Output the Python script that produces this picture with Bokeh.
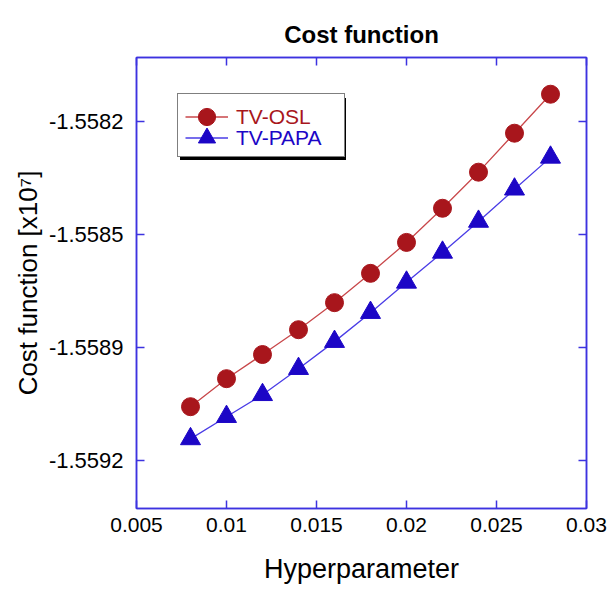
from bokeh.plotting import figure
from bokeh.models import (Range1d, FixedTicker, LinearAxis, Legend, LegendItem,
                          CustomLabelingPolicy)
from bokeh.embed import file_html
from bokeh.resources import INLINE

# ---- data ----
hyperparameter = [0.008, 0.010, 0.012, 0.014, 0.016, 0.018, 0.020, 0.022, 0.024, 0.026, 0.028]
tv_osl = [-1.559084, -1.558997, -1.558922, -1.558845, -1.558761, -1.558670,
          -1.558574, -1.558468, -1.558356, -1.558235, -1.558114]
tv_papa = [-1.559184, -1.559115, -1.559047, -1.558966, -1.558882, -1.558792,
           -1.558698, -1.558605, -1.558509, -1.558409, -1.558310]
x_ticks = [0.005, 0.01, 0.015, 0.02, 0.025, 0.03]
x_tick_labels = ["0.005", "0.01", "0.015", "0.02", "0.025", "0.03"]
y_ticks = [-1.5582, -1.55855, -1.5589, -1.55925]
y_tick_labels = ["-1.5582", "-1.5585", "-1.5589", "-1.5592"]
series_names = ["TV-OSL", "TV-PAPA"]

FONT = "Liberation Sans"
FRAME = "#3C33E0"
RED = "#A8161C"
RED_LINE = "#C8474A"
BLUE = "#1C06C6"
BLUE_LINE = "#4A3CE6"

p = figure(width=613, height=589, output_backend="svg", toolbar_location=None,
           x_range=Range1d(0.005, 0.03), y_range=Range1d(-1.5594, -1.5580),
           min_border_left=136, min_border_right=27, min_border_top=57, min_border_bottom=81,
           background_fill_color="white", border_fill_color="white")
p.grid.visible = False
p.outline_line_color = FRAME
p.outline_line_width = 1.5

p.title.text = "Cost function"
p.title.align = "center"
p.title.text_font = FONT
p.title.text_font_size = "24px"
p.title.text_font_style = "bold"
p.title.text_color = "black"
p.title.standoff = 20

no_labels = CustomLabelingPolicy(code="return []")

def style_axis(ax, show_labels):
    ax.axis_line_color = FRAME
    ax.axis_line_width = 1.5
    ax.major_tick_line_color = FRAME
    ax.major_tick_line_width = 1.5
    ax.major_tick_in = 8
    ax.major_tick_out = 0
    ax.minor_tick_line_color = None
    ax.major_label_text_font = FONT
    ax.major_label_text_color = "black"
    if not show_labels:
        ax.major_label_policy = no_labels
        ax.major_label_text_font_size = "0px"
        ax.major_label_standoff = 0

xax = p.xaxis[0]
xax.ticker = FixedTicker(ticks=x_ticks)
xax.major_label_overrides = {t: l for t, l in zip(x_ticks, x_tick_labels)}
style_axis(xax, True)
xax.major_label_text_font_size = "21px"
xax.major_label_standoff = 9
xax.axis_label = "Hyperparameter"
xax.axis_label_text_font = FONT
xax.axis_label_text_font_size = "27px"
xax.axis_label_text_font_style = "normal"
xax.axis_label_text_color = "black"
xax.axis_label_standoff = 19

yax = p.yaxis[0]
yax.ticker = FixedTicker(ticks=y_ticks)
yax.major_label_overrides = {t: l for t, l in zip(y_ticks, y_tick_labels)}
style_axis(yax, True)
yax.major_label_text_font_size = "22px"
yax.major_label_standoff = 13
yax.axis_label = "Cost function [x10\u2077]"
yax.axis_label_text_font = FONT
yax.axis_label_text_font_size = "26px"
yax.axis_label_text_font_style = "normal"
yax.axis_label_text_color = "black"
yax.axis_label_standoff = 3

top_ax = LinearAxis(ticker=FixedTicker(ticks=x_ticks))
style_axis(top_ax, False)
top_ax.major_label_standoff = 8   # spacer between frame and title
p.add_layout(top_ax, "above")
right_ax = LinearAxis(ticker=FixedTicker(ticks=y_ticks))
style_axis(right_ax, False)
p.add_layout(right_ax, "right")

l1 = p.line(hyperparameter, tv_osl, line_color=RED_LINE, line_width=1.3)
s1 = p.scatter(hyperparameter, tv_osl, marker="circle", size=18, fill_color=RED, line_color=RED)
l2 = p.line(hyperparameter, tv_papa, line_color=BLUE_LINE, line_width=1.3)
s2 = p.scatter(hyperparameter, tv_papa, marker="triangle", size=20, fill_color=BLUE, line_color=BLUE)

# invisible renderer used for the legend frame (box + drop shadow)
d0 = p.scatter([], [], fill_alpha=0, line_alpha=0)

# legend geometry, screen px from the frame's bottom-left corner
LX, LY = 41, 351
BOX_H = 62
ROW = 43

def box_legend(loc, **kw):
    return Legend(items=[LegendItem(label=" ", renderers=[d0])], location=loc,
                  padding=0, spacing=0, margin=0,
                  glyph_width=51, glyph_height=BOX_H, label_height=BOX_H, label_width=107,
                  label_standoff=8, label_text_font=FONT, label_text_font_size="21px", **kw)

def row_legend(name, rends, color, loc):
    return Legend(items=[LegendItem(label=name, renderers=rends)], location=loc,
                  padding=0, spacing=0, margin=0,
                  glyph_width=43, glyph_height=ROW, label_height=ROW,
                  label_standoff=8, label_text_font=FONT, label_text_font_size="21px",
                  label_text_color=color, background_fill_alpha=0, border_line_color=None)

shadow = box_legend((LX + 3, LY - 3), background_fill_color="black", background_fill_alpha=1.0,
                    border_line_color=None)
box = box_legend((LX, LY), background_fill_color="white", background_fill_alpha=1.0,
                 border_line_color="black", border_line_width=1)
row1 = row_legend(series_names[0], [l1, s1], RED, (LX + 8, LY + BOX_H - 21.5 - ROW / 2))
row2 = row_legend(series_names[1], [l2, s2], BLUE, (LX + 8, LY + BOX_H - 42.5 - ROW / 2))
for lg in (shadow, box, row1, row2):
    p.add_layout(lg, "center")

open("out.html", "w").write(file_html(p, INLINE))
